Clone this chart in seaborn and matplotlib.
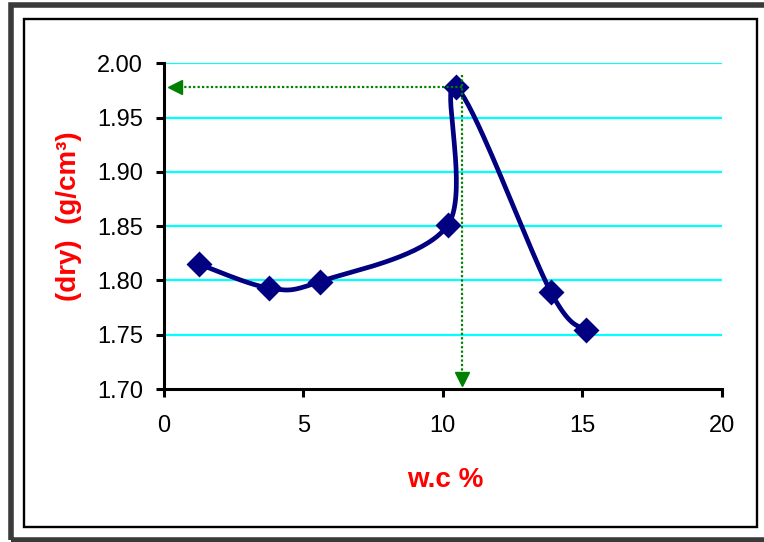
import numpy as np
import pandas as pd
import matplotlib
matplotlib.use("Agg")
import matplotlib.pyplot as plt
from matplotlib.patches import Rectangle
import seaborn as sns

# Compaction test results
water_content = [1.26, 3.77, 5.60, 10.18, 10.47, 13.88, 15.14]
dry_density = [1.815, 1.793, 1.799, 1.851, 1.978, 1.789, 1.754]

# Optimum water content / maximum dry density guide lines
optimum_wc = 10.69
max_dry_density = 1.978

x_ticks = [0, 5, 10, 15, 20]
y_ticks = [1.70, 1.75, 1.80, 1.85, 1.90, 1.95, 2.00]
y_tick_labels = ["1.70", "1.75", "1.80", "1.85", "1.90", "1.95", "2.00"]

NAVY = "#000080"
GREEN = "#008000"
RED = "#FF0000"


def smooth_path(xs, ys, steps=40):
    """Cubic Bezier smoothing through every point (spreadsheet-style)."""
    p = np.column_stack([xs, ys]).astype(float)
    n = len(p)
    out = [p[0]]
    t = np.linspace(0, 1, steps)[1:, None]
    for i in range(n - 1):
        p0 = p[max(i - 1, 0)]
        p1 = p[i]
        p2 = p[i + 1]
        p3 = p[min(i + 2, n - 1)]
        c1 = p1 + (p2 - p0) / 6.0
        c2 = p2 - (p3 - p1) / 6.0
        seg = ((1 - t) ** 3) * p1 + 3 * ((1 - t) ** 2) * t * c1 \
            + 3 * (1 - t) * (t ** 2) * c2 + (t ** 3) * p2
        out.extend(seg)
    return np.array(out)


sns.set_theme(style="white")
plt.rcParams["font.family"] = ["Liberation Sans", "DejaVu Sans"]

W, H = 764, 542
fig = plt.figure(figsize=(W / 100, H / 100), dpi=100)
ax = fig.add_axes([164 / W, (H - 389) / H, (721.7 - 164) / W, (389 - 63.3) / H])

# horizontal grid
for yv in y_ticks[1:]:
    ax.axhline(yv, color="#00FFFF", lw=1.6, zorder=1)

curve = smooth_path(water_content, dry_density)
curve_df = pd.DataFrame({"wc": curve[:, 0], "gd": curve[:, 1]})
sns.lineplot(data=curve_df, x="wc", y="gd", sort=False, estimator=None,
             color=NAVY, lw=3.4, ax=ax, zorder=3)

points_df = pd.DataFrame({"wc": water_content, "gd": dry_density})
sns.scatterplot(data=points_df, x="wc", y="gd", marker="D", s=175,
                color=NAVY, edgecolor=NAVY, linewidth=0, ax=ax, zorder=4)

# guide arrows (dotted green)
dot = (0, (1, 1))
ax.plot([optimum_wc, 0.64], [max_dry_density, max_dry_density],
        color=GREEN, lw=1.6, ls=dot, zorder=5)
ax.plot([0.39], [max_dry_density], marker="<", ms=10, color=GREEN,
        mec=GREEN, zorder=6, clip_on=False)
ax.plot([optimum_wc, optimum_wc], [1.989, 1.7157],
        color=GREEN, lw=1.6, ls=dot, zorder=5)
ax.plot([optimum_wc], [1.7088], marker="v", ms=10, color=GREEN,
        mec=GREEN, zorder=6, clip_on=False)

ax.set_xlim(0, 20)
ax.set_ylim(1.70, 2.00)
ax.set_xticks(x_ticks)
ax.set_xticklabels([str(v) for v in x_ticks])
ax.set_yticks(y_ticks)
ax.set_yticklabels(y_tick_labels)

for side in ("top", "right"):
    ax.spines[side].set_visible(False)
for side in ("left", "bottom"):
    ax.spines[side].set_color("black")
    ax.spines[side].set_linewidth(2.2)
    ax.spines[side].set_zorder(7)

ax.tick_params(axis="both", direction="out", length=6, width=2.2,
               color="black", labelcolor="black", labelsize=17)
ax.tick_params(axis="x", pad=13, bottom=True)
ax.tick_params(axis="y", pad=9, left=True)

ax.set_xlabel("w.c %", color=RED, fontsize=20, fontweight="bold")
ax.set_ylabel("(dry)  (g/cm³)", color=RED, fontsize=20, fontweight="bold")
ax.xaxis.set_label_coords(0.505, -0.279)
ax.xaxis.label.set_verticalalignment("center")
ax.yaxis.set_label_coords(-0.170, 0.53)
ax.yaxis.label.set_verticalalignment("center")
ax.grid(False)

# chart frames
def px_rect(x0, y0, x1, y1, **kw):
    return Rectangle((x0 / W, (H - y1) / H), (x1 - x0) / W, (y1 - y0) / H,
                     transform=fig.transFigure, fill=False, clip_on=False, **kw)

fig.patches.append(px_rect(10.5, 5, 768, 539.5, lw=4.0, edgecolor="#3a3a3a"))
fig.patches.append(px_rect(23.8, 19, 756.5, 527, lw=1.7, edgecolor="black"))

fig.savefig("out.png", dpi=100)
